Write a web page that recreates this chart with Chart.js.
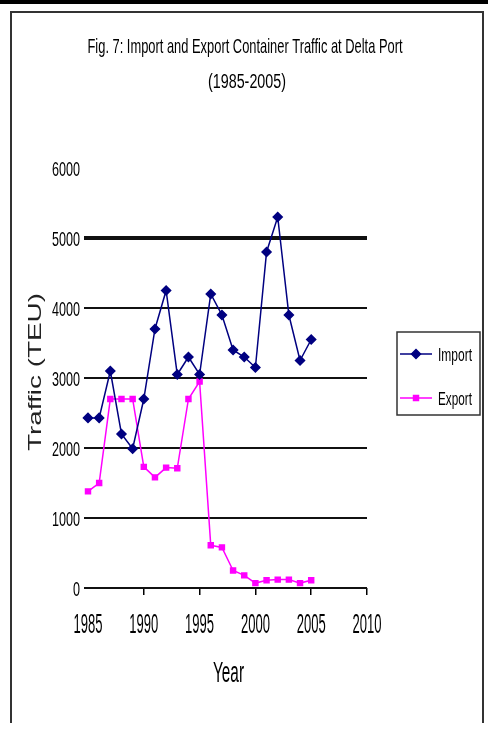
<!DOCTYPE html>
<html>
<head>
<meta charset="utf-8">
<title>Import and Export Container Traffic at Delta Port</title>
<script src="https://cdn.jsdelivr.net/npm/chart.js@4/dist/chart.umd.min.js"></script>
<style>
  html, body { margin: 0; padding: 0; background: #fff; }
  #wrap { position: relative; width: 488px; height: 736px; }
</style>
</head>
<body>
<div id="wrap"><canvas id="chart"></canvas></div>
<script>
// Container traffic (TEU) by year
const years = [1985, 1986, 1987, 1988, 1989, 1990, 1991, 1992, 1993, 1994, 1995,
               1996, 1997, 1998, 1999, 2000, 2001, 2002, 2003, 2004, 2005];
const importTEU = [2430, 2430, 3100, 2200, 1990, 2700, 3700, 4250, 3050, 3300, 3050,
                   4200, 3900, 3400, 3300, 3150, 4800, 5300, 3900, 3250, 3550];
const exportTEU = [1380, 1500, 2700, 2700, 2700, 1730, 1580, 1720, 1710, 2700, 2950,
                   610, 580, 250, 180, 70, 110, 120, 120, 70, 110];
const yearTicks = [1985, 1990, 1995, 2000, 2005, 2010];
const trafficTicks = [0, 1000, 2000, 3000, 4000, 5000, 6000];

const titleText = 'Fig. 7: Import and Export Container Traffic at Delta Port';
const subtitleText = '(1985-2005)';
const xTitle = 'Year';
const yTitle = 'Traffic (TEU)';

const IMPORT_COLOR = '#000080';
const EXPORT_COLOR = '#FF00FF';
const FONT = '"Liberation Sans", Arial, sans-serif';

// Draw text condensed (or stretched) along its direction to a given length
function drawFitted(ctx, str, x, y, size, length, align, angle, color) {
  ctx.save();
  ctx.translate(x, y);
  if (angle) ctx.rotate(angle);
  ctx.font = size + 'px ' + FONT;
  const w = ctx.measureText(str).width;
  ctx.scale(length / w, 1);
  ctx.textAlign = align || 'center';
  ctx.textBaseline = 'alphabetic';
  ctx.fillStyle = color || '#000';
  ctx.fillText(str, 0, 0);
  ctx.restore();
}

const framePlugin = {
  id: 'frame',
  beforeDraw(chart) {
    const ctx = chart.ctx;
    ctx.save();
    ctx.fillStyle = '#fff';
    ctx.fillRect(0, 0, chart.width, chart.height);
    // heavy rule across the top
    ctx.fillStyle = '#000';
    ctx.fillRect(0, 0, chart.width, 4);
    // figure frame (open at the bottom)
    ctx.strokeStyle = '#333';
    ctx.lineWidth = 2;
    ctx.beginPath();
    ctx.moveTo(11, 723);
    ctx.lineTo(11, 12);
    ctx.lineTo(483, 12);
    ctx.lineTo(483, 723);
    ctx.stroke();
    ctx.restore();
  }
};

const textPlugin = {
  id: 'labels',
  afterDraw(chart) {
    const ctx = chart.ctx;
    const xs = chart.scales.x, ys = chart.scales.y;
    const area = chart.chartArea;

    drawFitted(ctx, titleText, 245, 53, 21, 315, 'center');
    drawFitted(ctx, subtitleText, 247, 88, 20, 78, 'center');

    // value axis labels
    trafficTicks.forEach(v => {
      const s = String(v);
      drawFitted(ctx, s, 80, ys.getPixelForValue(v) + 7.5, 21, 7 * s.length, 'right');
    });
    // year axis labels
    yearTicks.forEach(v => {
      const s = String(v);
      drawFitted(ctx, s, xs.getPixelForValue(v), 633, 28, 29, 'center');
    });

    drawFitted(ctx, xTitle, (area.left + area.right) / 2 + 1, 682, 29, 31, 'center');
    drawFitted(ctx, yTitle, 41, (area.top + area.bottom) / 2 - 6, 18, 158, 'center', -Math.PI / 2, '#222');

    // legend
    const lx = 397, ly = 332, lw = 83, lh = 83;
    ctx.save();
    ctx.strokeStyle = '#333';
    ctx.lineWidth = 1.5;
    ctx.strokeRect(lx, ly, lw, lh);
    const entries = [
      { ds: chart.data.datasets[0], y: 354 },
      { ds: chart.data.datasets[1], y: 398 }
    ];
    entries.forEach(e => {
      ctx.strokeStyle = e.ds.borderColor;
      ctx.lineWidth = e.ds.borderWidth;
      ctx.beginPath();
      ctx.moveTo(400, e.y);
      ctx.lineTo(432, e.y);
      ctx.stroke();
      ctx.fillStyle = e.ds.pointBackgroundColor;
      ctx.strokeStyle = e.ds.pointBorderColor;
      Chart.helpers.drawPoint(ctx, {
        pointStyle: e.ds.pointStyle, radius: e.ds.pointRadius, rotation: 0, borderWidth: 1
      }, 416, e.y);
      drawFitted(ctx, e.ds.label, 438, e.y + 7, 19, 34, 'left');
    });
    ctx.restore();
  }
};

const toPoints = vals => years.map((yr, i) => ({ x: yr, y: vals[i] }));

new Chart(document.getElementById('chart'), {
  type: 'line',
  data: {
    datasets: [
      {
        label: 'Import',
        data: toPoints(importTEU),
        borderColor: IMPORT_COLOR,
        backgroundColor: IMPORT_COLOR,
        pointBackgroundColor: IMPORT_COLOR,
        pointBorderColor: IMPORT_COLOR,
        borderWidth: 1.5,
        pointStyle: 'rectRot',
        pointRadius: 4.5,
        tension: 0,
        clip: false
      },
      {
        label: 'Export',
        data: toPoints(exportTEU),
        borderColor: EXPORT_COLOR,
        backgroundColor: EXPORT_COLOR,
        pointBackgroundColor: EXPORT_COLOR,
        pointBorderColor: EXPORT_COLOR,
        borderWidth: 1.5,
        pointStyle: 'rect',
        pointRadius: 3.5,
        tension: 0,
        clip: false
      }
    ]
  },
  options: {
    responsive: true,
    maintainAspectRatio: false,
    animation: false,
    events: [],
    layout: { padding: { left: 84, right: 121, top: 168, bottom: 141 } },
    plugins: {
      legend: { display: false },
      title: { display: false },
      tooltip: { enabled: false }
    },
    scales: {
      x: {
        type: 'linear',
        min: 1985,
        max: 2010,
        afterBuildTicks: s => { s.ticks = yearTicks.map(v => ({ value: v })); },
        ticks: { display: false },
        border: { display: false },
        grid: {
          drawOnChartArea: false,
          drawTicks: true,
          tickLength: 7,
          lineWidth: 1.5,
          color: ctx => ctx.index === 0 ? 'rgba(0,0,0,0)' : '#000'
        }
      },
      y: {
        type: 'linear',
        min: 0,
        max: 6000,
        afterBuildTicks: s => { s.ticks = trafficTicks.map(v => ({ value: v })); },
        ticks: { display: false },
        border: { display: false },
        grid: {
          drawTicks: true,
          tickLength: 4,
          color: ctx => ctx.tick && ctx.tick.value === 6000 ? 'rgba(0,0,0,0)' : '#111',
          lineWidth: ctx => ctx.tick && ctx.tick.value === 5000 ? 4 : 2
        }
      }
    }
  },
  plugins: [framePlugin, textPlugin]
});
</script>
</body>
</html>
